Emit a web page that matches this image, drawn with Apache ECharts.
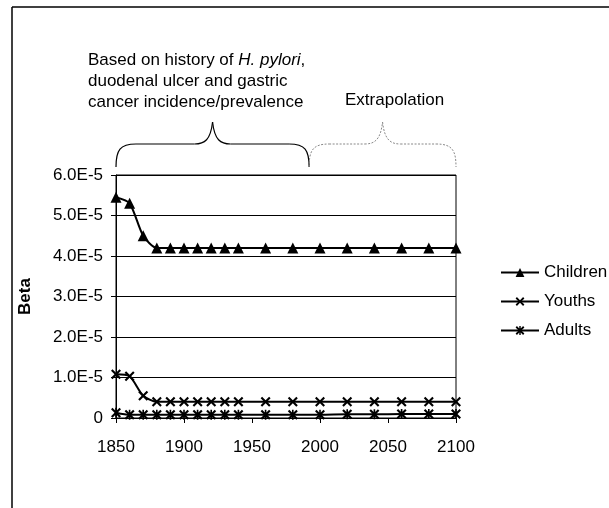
<!DOCTYPE html>
<html>
<head>
<meta charset="utf-8">
<script src="https://cdn.jsdelivr.net/npm/echarts@6/dist/echarts.min.js"></script>
<style>
    html, body { margin: 0; padding: 0; background: #fff; }
    #chart { width: 609px; height: 508px; }
</style>
</head>
<body>
<div id="chart"></div>
<script>
var years = [1850, 1860, 1870, 1880, 1890, 1900, 1910, 1920, 1930, 1940, 1960, 1980, 2000, 2020, 2040, 2060, 2080, 2100];
var children = [5.45e-5, 5.3e-5, 4.5e-5, 4.2e-5, 4.2e-5, 4.2e-5, 4.2e-5, 4.2e-5, 4.2e-5, 4.2e-5, 4.2e-5, 4.2e-5, 4.2e-5, 4.2e-5, 4.2e-5, 4.2e-5, 4.2e-5, 4.2e-5];
var youths = [1.08e-5, 1.03e-5, 0.55e-5, 0.4e-5, 0.4e-5, 0.4e-5, 0.4e-5, 0.4e-5, 0.4e-5, 0.4e-5, 0.4e-5, 0.4e-5, 0.4e-5, 0.4e-5, 0.4e-5, 0.4e-5, 0.4e-5, 0.4e-5];
var adults = [0.13e-5, 0.08e-5, 0.08e-5, 0.08e-5, 0.08e-5, 0.08e-5, 0.08e-5, 0.08e-5, 0.08e-5, 0.08e-5, 0.08e-5, 0.08e-5, 0.08e-5, 0.09e-5, 0.09e-5, 0.1e-5, 0.1e-5, 0.1e-5];
var seriesNames = ['Children', 'Youths', 'Adults'];
var historyEnd = 1992;   // where the first brace stops

var crossPath = 'path://M0,1.5L1.5,0L5,3.5L8.5,0L10,1.5L6.5,5L10,8.5L8.5,10L5,6.5L1.5,10L0,8.5L3.5,5Z';
var starPath = 'path://M0,1.5L1.5,0L5,3.5L8.5,0L10,1.5L6.5,5L10,8.5L8.5,10L5,6.5L1.5,10L0,8.5L3.5,5ZM4.2,0L5.8,0L5.8,10L4.2,10Z';

function pairs(vals) {
    var out = [];
    for (var i = 0; i < years.length; i++) {
        out.push([years[i], vals[i]]);
    }
    return out;
}

function makeSeries(name, vals, symbol, size) {
    return {
        name: name,
        type: 'line',
        data: pairs(vals),
        smooth: 0.25,
        symbol: symbol,
        symbolSize: size,
        symbolKeepAspect: true,
        showAllSymbol: true,
        lineStyle: { color: '#000', width: 2 },
        itemStyle: { color: '#000' },
        emphasis: { disabled: true }
    };
}

var chart = echarts.init(document.getElementById('chart'));
var font = 'Arial, "Liberation Sans", sans-serif';

var option = {
    animation: false,
    textStyle: { fontFamily: font },
    grid: { left: 116, right: 153, top: 175, bottom: 90, show: true, borderColor: '#000', borderWidth: 1 },
    legend: {
        orient: 'vertical',
        left: 495,
        top: 259,
        itemWidth: 38,
        itemHeight: 11,
        itemGap: 12,
        data: seriesNames,
        textStyle: { fontSize: 17, color: '#000', fontFamily: font }
    },
    xAxis: {
        type: 'value',
        min: 1850,
        max: 2100,
        interval: 50,
        splitLine: { show: false },
        axisLine: { onZero: false, lineStyle: { color: '#000' } },
        axisTick: { lineStyle: { color: '#000' }, length: 5 },
        axisLabel: {
            color: '#000', fontSize: 17, margin: 21,
            formatter: function (v) { return String(v); }
        }
    },
    yAxis: {
        type: 'value',
        name: 'Beta',
        nameLocation: 'middle',
        nameGap: 82,
        nameTextStyle: { fontSize: 17, fontWeight: 'bold', color: '#000' },
        min: 0,
        max: 6e-5,
        interval: 1e-5,
        axisLine: { show: true, lineStyle: { color: '#000' } },
        axisTick: { show: true, lineStyle: { color: '#000' }, length: 5 },
        splitLine: { lineStyle: { color: '#000', width: 1 } },
        axisLabel: {
            color: '#000',
            fontSize: 17,
            margin: 13,
            formatter: function (v) {
                if (v === 0) return '0';
                return (v * 1e5).toFixed(1) + 'E-5';
            }
        }
    },
    series: [
        makeSeries('Children', children, 'triangle', 11),
        makeSeries('Youths', youths, crossPath, 10),
        makeSeries('Adults', adults, starPath, 10)
    ]
};
chart.setOption(option);

// a curly brace built from bezier pieces and straight lines
function brace(x1, x2, yTop, yMid, yBot, style) {
    var m = (x1 + x2) / 2;
    var parts = [
        { type: 'bezierCurve', shape: { x1: x1, y1: yBot, cpx1: x1, cpy1: yMid + 6, cpx2: x1 + 4, cpy2: yMid, x2: x1 + 20, y2: yMid } },
        { type: 'line', shape: { x1: x1 + 20, y1: yMid, x2: m - 18, y2: yMid } },
        { type: 'bezierCurve', shape: { x1: m - 18, y1: yMid, cpx1: m - 8, cpy1: yMid, cpx2: m - 2, cpy2: yMid - 4, x2: m, y2: yTop } },
        { type: 'bezierCurve', shape: { x1: m, y1: yTop, cpx1: m + 2, cpy1: yMid - 4, cpx2: m + 8, cpy2: yMid, x2: m + 18, y2: yMid } },
        { type: 'line', shape: { x1: m + 18, y1: yMid, x2: x2 - 20, y2: yMid } },
        { type: 'bezierCurve', shape: { x1: x2 - 20, y1: yMid, cpx1: x2 - 4, cpy1: yMid, cpx2: x2, cpy2: yMid + 6, x2: x2, y2: yBot } }
    ];
    for (var i = 0; i < parts.length; i++) {
        parts[i].style = style;
        parts[i].silent = true;
    }
    return parts;
}

var xa = chart.convertToPixel({ gridIndex: 0 }, [1850, 0])[0];
var xb = chart.convertToPixel({ gridIndex: 0 }, [historyEnd, 0])[0];
var xc = chart.convertToPixel({ gridIndex: 0 }, [2100, 0])[0];

var graphics = [
    { type: 'line', shape: { x1: 12, y1: 7, x2: 609, y2: 7 }, style: { stroke: '#000', lineWidth: 1.5 } },
    { type: 'line', shape: { x1: 12, y1: 7, x2: 12, y2: 508 }, style: { stroke: '#000', lineWidth: 1.5 } },
    {
        type: 'text', left: 88, top: 50,
        style: {
            text: 'Based on history of {i|H. pylori},\nduodenal ulcer and gastric\ncancer incidence/prevalence',
            fontSize: 17, lineHeight: 21, fill: '#000', fontFamily: font,
            rich: { i: { fontStyle: 'italic', fontSize: 17, lineHeight: 21, fontFamily: font } }
        }
    },
    {
        type: 'text', left: 345, top: 92,
        style: { text: 'Extrapolation', fontSize: 17, fill: '#000', fontFamily: font }
    }
];
graphics = graphics.concat(brace(xa, xb, 122, 144, 167, { fill: null, stroke: '#000', lineWidth: 1.2 }));
graphics = graphics.concat(brace(xb, xc, 122, 144, 167, { fill: null, stroke: '#888', lineWidth: 1, lineDash: [2, 1.5] }));

chart.setOption({ graphic: graphics });
</script>
</body>
</html>
